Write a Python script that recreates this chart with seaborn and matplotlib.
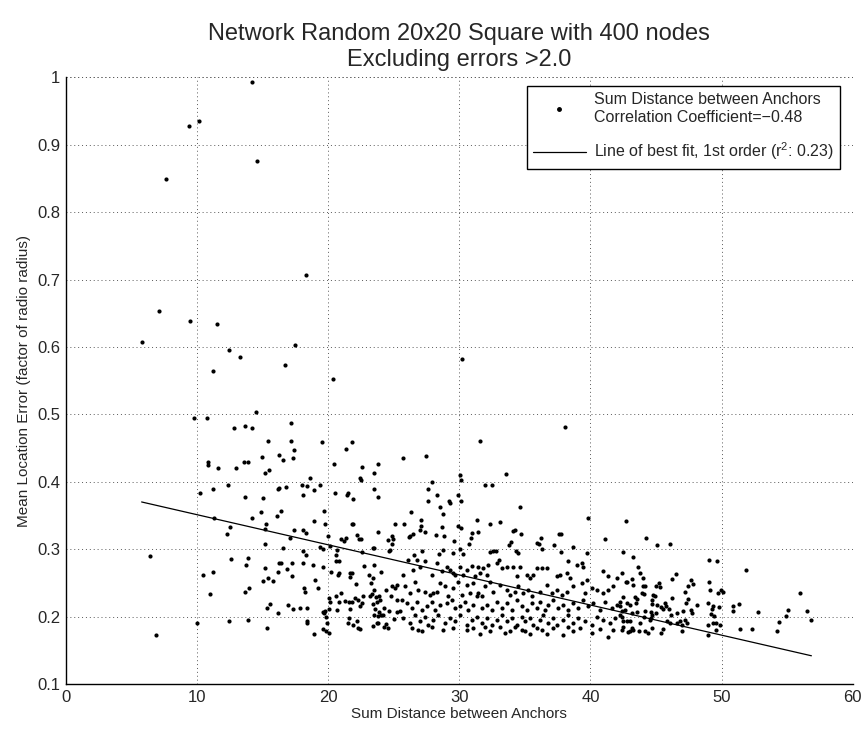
import numpy as np
import pandas as pd
import matplotlib
matplotlib.use("Agg")
import matplotlib.pyplot as plt
import seaborn as sns
from matplotlib.ticker import MultipleLocator, FormatStrFormatter
from matplotlib.lines import Line2D

# ---- data (sum distance between anchors, mean location error) ----
dist_outer = [14.22, 10.2, 9.37, 14.58, 7.62, 18.35, 7.11, 9.44, 11.54, 5.79, 12.42, 17.49, 13.31, 16.7,
              11.24, 14.5, 9.77, 10.78, 17.16, 13.69, 12.8, 14.22, 15.41, 17.16, 17.41, 14.96, 16.25, 16.58,
              17.31, 10.85, 10.85, 13.57, 13.92, 11.64, 12.95, 15.2, 15.53, 18.65, 18.02, 18.42, 18.95, 10.23,
              11.2, 12.35, 13.64, 15.03, 16.25, 16.2, 16.83, 18.12, 14.88, 16.42, 16.09, 11.31, 14.19, 18.93,
              15.28, 15.23, 12.55, 12.27, 17.41, 18.12, 18.32, 17.13, 15.23, 16.59, 18.12, 18.32, 6.42, 12.57,
              13.92, 6.88, 20.4, 30.2]
err_outer = [0.993, 0.936, 0.928, 0.876, 0.849, 0.707, 0.653, 0.638, 0.634, 0.608, 0.596, 0.603, 0.585, 0.573,
             0.564, 0.503, 0.495, 0.495, 0.488, 0.483, 0.480, 0.480, 0.460, 0.461, 0.447, 0.437, 0.440, 0.433,
             0.435, 0.429, 0.425, 0.430, 0.430, 0.420, 0.421, 0.413, 0.418, 0.405, 0.395, 0.394, 0.388, 0.384,
             0.389, 0.395, 0.378, 0.376, 0.391, 0.389, 0.393, 0.380, 0.355, 0.357, 0.350, 0.347, 0.346, 0.342,
             0.338, 0.330, 0.333, 0.323, 0.328, 0.329, 0.324, 0.316, 0.307, 0.302, 0.297, 0.292, 0.290, 0.285,
             0.287, 0.173, 0.553, 0.583]

dist_b = [19.54, 21.84, 21.36, 20.42, 22.62, 23.79, 23.49, 22.40, 22.50, 19.36, 20.55, 21.41, 21.49, 21.89,
          23.49, 23.84, 19.66, 19.76, 21.81, 21.87, 23.79, 19.97, 20.98, 21.21, 21.36, 22.22, 22.35, 22.55,
          19.36, 19.61, 20.12, 20.70, 23.43, 23.54, 22.6, 20.57]
err_b = [0.459, 0.459, 0.448, 0.426, 0.422, 0.426, 0.413, 0.405, 0.402, 0.396, 0.383, 0.381, 0.384, 0.375,
         0.390, 0.378, 0.357, 0.338, 0.338, 0.337, 0.326, 0.320, 0.315, 0.312, 0.316, 0.321, 0.315, 0.315,
         0.304, 0.301, 0.305, 0.299, 0.302, 0.302, 0.296, 0.291]

dist_c = [13.77, 15.23, 16.27, 16.40, 17.26, 18.07, 18.85, 19.61, 20.58, 20.80, 10.48, 11.24, 15.06, 15.41,
          15.77, 16.17, 16.85, 17.26, 20.25, 20.80, 20.78, 21.66, 21.81, 21.69, 22.78, 23.54, 24.04, 23.13,
          23.43, 23.31, 22.14, 19.00, 19.23, 18.14, 18.27, 13.69, 13.94, 10.98, 15.34, 15.54, 16.22, 16.98,
          17.33, 17.87, 18.42, 19.59, 19.69, 19.79, 19.84, 20.17, 20.07, 20.07, 20.63, 20.70, 20.85, 21.00,
          21.26, 21.59, 21.69, 21.84, 22.02, 22.32, 22.47, 22.65, 22.62, 23.18, 23.41, 23.33, 23.54, 23.69,
          23.92, 23.99, 23.74, 23.59, 23.92, 24.02, 24.24, 24.19, 23.49, 23.81, 23.81, 23.46, 23.76, 24.27,
          24.57, 24.45, 24.62, 24.40, 24.78, 24.88, 25.08, 25.28, 25.26, 25.23, 25.05, 21.59, 21.54, 21.92,
          22.22, 22.30, 22.45, 10.02, 12.42, 13.87, 15.34, 18.37, 18.42, 18.90, 19.64, 19.81, 20.07, 19.92]
err_c = [0.276, 0.272, 0.279, 0.280, 0.280, 0.279, 0.277, 0.274, 0.283, 0.283, 0.261, 0.266, 0.253, 0.257,
         0.253, 0.266, 0.271, 0.260, 0.266, 0.264, 0.261, 0.264, 0.265, 0.259, 0.275, 0.276, 0.266, 0.262,
         0.258, 0.250, 0.249, 0.255, 0.242, 0.243, 0.237, 0.237, 0.242, 0.234, 0.213, 0.219, 0.206, 0.217,
         0.211, 0.213, 0.213, 0.207, 0.205, 0.209, 0.199, 0.221, 0.228, 0.212, 0.231, 0.210, 0.221, 0.235,
         0.223, 0.221, 0.212, 0.221, 0.228, 0.225, 0.215, 0.231, 0.220, 0.230, 0.219, 0.233, 0.240, 0.229,
         0.231, 0.224, 0.221, 0.212, 0.207, 0.203, 0.213, 0.202, 0.202, 0.201, 0.190, 0.186, 0.191, 0.184,
         0.183, 0.189, 0.209, 0.240, 0.230, 0.245, 0.243, 0.247, 0.225, 0.207, 0.197, 0.198, 0.190, 0.187,
         0.193, 0.183, 0.181, 0.190, 0.194, 0.195, 0.183, 0.193, 0.190, 0.174, 0.182, 0.178, 0.176, 0.190]

dist_d = [38.04, 31.58, 25.74, 27.44, 33.54, 30.06, 30.16, 31.93, 32.49, 27.95, 27.62, 28.28, 27.65, 28.56,
          29.25, 29.3, 29.88, 30.11, 28.78, 26.34, 34.64, 31.35, 31.43, 32.31, 33.08, 27.11, 27.06, 27.04,
          27.42, 28.68, 29.91, 30.14, 25.1, 25.79, 26.45, 26.27, 26.17, 28.23, 28.86, 29.58, 30.03, 30.72,
          30.87, 30.95, 24.55, 24.9, 24.95, 24.88, 24.72, 24.67, 26.52, 27.19, 28.43, 28.78, 29.5, 32.31,
          32.57, 32.82, 33.82, 33.94, 34.28, 34.13, 34.71, 34.36, 34.46, 35.95, 36.08, 36.33, 36.26, 37.24,
          37.63, 37.76, 38.64, 37.73, 26.09, 26.75, 30.26, 33.0,
          39.80, 42.72, 41.09, 44.24, 45.08, 46.07, 39.72, 42.49, 43.28, 49.07, 49.66]
err_d = [0.481, 0.460, 0.436, 0.439, 0.411, 0.410, 0.403, 0.396, 0.395, 0.400, 0.389, 0.381, 0.372, 0.363,
         0.371, 0.368, 0.380, 0.371, 0.352, 0.355, 0.362, 0.344, 0.326, 0.337, 0.341, 0.343, 0.335, 0.328,
         0.325, 0.333, 0.335, 0.331, 0.337, 0.338, 0.322, 0.320, 0.318, 0.321, 0.320, 0.312, 0.300, 0.307,
         0.316, 0.324, 0.314, 0.319, 0.315, 0.308, 0.299, 0.297, 0.292, 0.298, 0.293, 0.299, 0.294, 0.296,
         0.297, 0.297, 0.306, 0.310, 0.328, 0.327, 0.323, 0.297, 0.295, 0.309, 0.308, 0.300, 0.316, 0.306,
         0.323, 0.322, 0.303, 0.296, 0.284, 0.284, 0.293, 0.284,
         0.347, 0.342, 0.315, 0.317, 0.306, 0.308, 0.295, 0.296, 0.288, 0.284, 0.282]

dist_e = [25.74, 26.51, 27.01, 27.40, 27.90, 28.29, 28.67, 29.05, 29.30, 29.56, 29.68, 30.06, 30.32, 30.57,
          30.95, 31.21, 31.46, 31.59, 31.84, 32.10, 32.22, 32.86, 33.24, 33.62, 34.13, 34.38, 34.64, 35.15,
          35.40, 35.65, 35.91, 36.29, 36.67, 37.43, 37.69, 38.20, 38.32, 38.45, 38.96, 39.34, 39.41, 39.72,
          40.99, 41.37, 42.01,
          25.87, 26.25, 26.63, 26.89, 27.40, 27.78, 28.03, 28.29, 28.54, 28.92, 29.17, 29.56, 29.94, 30.19,
          30.57, 30.83, 31.08, 31.46, 31.72, 31.97, 32.35, 32.61, 33.11, 33.62, 33.88, 34.26, 34.51, 34.89,
          35.27, 35.53, 36.16, 36.67, 37.05, 37.43, 37.81, 38.20, 38.70, 39.34, 39.59, 40.10, 40.48, 40.99,
          41.37, 41.75,
          25.62, 26.0, 26.38, 26.76, 27.14, 27.52, 27.90, 28.16, 28.54, 29.05, 29.43, 29.68, 30.06, 30.45,
          30.70, 31.08, 31.34, 31.72, 32.10, 32.48, 32.86, 33.24, 33.62, 34.0, 34.38, 34.77, 35.15, 35.53,
          35.91, 36.16, 36.54, 36.80, 37.18, 37.56, 37.94, 38.32, 38.70, 39.09, 39.47, 39.85, 40.23, 40.74,
          41.12, 41.63, 42.01, 25.49,
          25.74, 26.25, 26.63, 27.01, 27.40, 27.65, 28.03, 28.41, 28.92, 29.30, 29.68, 30.06, 30.57, 30.95,
          31.34, 31.72, 32.10, 32.48, 32.86, 33.24, 33.62, 34.0, 34.38, 34.77, 35.02, 35.40, 35.65, 36.16,
          36.42, 36.80, 37.18, 37.43, 37.94, 38.32, 38.70, 39.09, 39.59, 40.10, 40.48, 40.99, 41.50, 41.88,
          26.38, 26.89, 27.14, 27.90, 28.79, 29.56, 30.57, 31.08, 31.59, 31.97, 32.35, 33.11, 33.49, 33.88,
          34.26, 34.77, 35.02, 35.40, 35.91, 36.29, 36.67, 37.18, 37.94, 38.32, 38.70, 39.21, 40.10, 40.74,
          41.37, 41.75]
err_e = [0.262, 0.269, 0.274, 0.282, 0.261, 0.279, 0.267, 0.274, 0.269, 0.265, 0.262, 0.274, 0.262, 0.269,
         0.275, 0.260, 0.274, 0.264, 0.272, 0.262, 0.277, 0.279, 0.272, 0.274, 0.274, 0.260, 0.273, 0.262,
         0.257, 0.262, 0.272, 0.272, 0.272, 0.260, 0.262, 0.264, 0.282, 0.257, 0.277, 0.279, 0.274, 0.255,
         0.267, 0.260, 0.257,
         0.245, 0.235, 0.252, 0.240, 0.237, 0.232, 0.235, 0.237, 0.250, 0.245, 0.230, 0.242, 0.252, 0.232,
         0.247, 0.235, 0.250, 0.235, 0.230, 0.245, 0.252, 0.237, 0.247, 0.240, 0.232, 0.237, 0.245, 0.235,
         0.240, 0.230, 0.237, 0.247, 0.235, 0.240, 0.232, 0.237, 0.245, 0.250, 0.235, 0.242, 0.240, 0.235,
         0.240, 0.245,
         0.225, 0.220, 0.213, 0.222, 0.210, 0.215, 0.222, 0.210, 0.217, 0.220, 0.225, 0.213, 0.215, 0.222,
         0.210, 0.217, 0.230, 0.213, 0.217, 0.210, 0.222, 0.213, 0.220, 0.210, 0.225, 0.215, 0.210, 0.220,
         0.213, 0.222, 0.210, 0.217, 0.225, 0.213, 0.217, 0.210, 0.220, 0.213, 0.225, 0.215, 0.220, 0.210,
         0.222, 0.213, 0.217, 0.208,
         0.198, 0.190, 0.203, 0.193, 0.200, 0.188, 0.195, 0.203, 0.190, 0.198, 0.193, 0.203, 0.188, 0.195,
         0.200, 0.190, 0.198, 0.188, 0.195, 0.203, 0.193, 0.198, 0.188, 0.200, 0.193, 0.198, 0.188, 0.195,
         0.203, 0.190, 0.198, 0.188, 0.195, 0.203, 0.190, 0.198, 0.193, 0.188, 0.200, 0.195, 0.190, 0.198,
         0.183, 0.180, 0.178, 0.185, 0.180, 0.183, 0.180, 0.183, 0.174, 0.185, 0.178, 0.185, 0.176, 0.179,
         0.185, 0.180, 0.178, 0.174, 0.183, 0.180, 0.174, 0.183, 0.172, 0.185, 0.179, 0.183, 0.176, 0.181,
         0.170, 0.180]

dist_f = [51.87, 42.44, 43.79, 44.04, 43.15, 42.82, 42.72, 46.23, 46.53, 45.26, 44.98, 45.31, 47.68, 47.80,
          47.47, 43.28, 44.04, 44.17, 43.97, 44.12, 49.02, 49.12, 47.22, 49.94, 50.14, 49.76, 55.96, 44.75,
          44.93, 44.68, 43.41, 43.53, 43.48, 42.52, 42.26, 46.25, 47.42, 47.29, 48.11, 49.0, 49.38, 49.81,
          49.28, 45.67, 45.74, 45.41, 45.57, 44.68, 45.06, 43.02, 42.77, 42.26, 50.90, 51.36, 50.90, 52.81,
          55.05, 54.89, 56.49, 56.85, 54.41, 54.21, 52.33, 51.41, 42.44, 42.64, 43.15, 43.53, 44.17, 44.60,
          44.98, 44.12, 44.63, 44.68, 46.0, 46.15, 46.58, 47.09, 47.73, 47.65, 49.17, 49.45, 42.26, 42.39,
          42.52, 42.82, 43.02, 43.79, 44.55, 45.82, 46.07, 46.58, 46.84, 46.96, 47.22, 47.35, 49.0, 49.38,
          49.58, 49.89, 49.58, 48.95, 46.96, 45.57, 45.36, 44.68, 44.17, 44.37, 43.74, 43.15, 43.28, 43.02,
          42.9, 42.52, 42.39, 43.61]
err_f = [0.269, 0.264, 0.264, 0.257, 0.256, 0.252, 0.252, 0.256, 0.263, 0.250, 0.246, 0.244, 0.254, 0.249,
         0.246, 0.247, 0.245, 0.245, 0.235, 0.233, 0.251, 0.240, 0.236, 0.240, 0.237, 0.235, 0.235, 0.232,
         0.231, 0.225, 0.229, 0.226, 0.220, 0.229, 0.222, 0.227, 0.226, 0.220, 0.217, 0.220, 0.215, 0.214,
         0.212, 0.220, 0.215, 0.214, 0.211, 0.219, 0.217, 0.217, 0.220, 0.215, 0.216, 0.219, 0.208, 0.207,
         0.210, 0.201, 0.209, 0.195, 0.192, 0.179, 0.181, 0.181, 0.209, 0.210, 0.206, 0.207, 0.209, 0.207,
         0.205, 0.200, 0.198, 0.203, 0.212, 0.203, 0.205, 0.208, 0.206, 0.210, 0.204, 0.201, 0.203, 0.200,
         0.193, 0.193, 0.193, 0.190, 0.195, 0.193, 0.190, 0.190, 0.193, 0.188, 0.195, 0.190, 0.188, 0.191,
         0.190, 0.187, 0.180, 0.173, 0.179, 0.182, 0.175, 0.183, 0.178, 0.176, 0.178, 0.183, 0.180, 0.179,
         0.177, 0.185, 0.180, 0.274]

# line of best fit (1st order)
fit_slope = -0.00447
fit_intercept = 0.396

title_text = "Network Random 20x20 Square with 400 nodes\nExcluding errors >2.0"
x_label = "Sum Distance between Anchors"
y_label = "Mean Location Error (factor of radio radius)"
scatter_label = "Sum Distance between Anchors\nCorrelation Coefficient=\u22120.48"
fit_label = "Line of best fit, 1st order (r$^{2}$: 0.23)"
x_ticks = [0, 10, 20, 30, 40, 50, 60]
y_ticks = [0.1, 0.2, 0.3, 0.4, 0.5, 0.6, 0.7, 0.8, 0.9, 1.0]

# ---- assemble ----
df = pd.DataFrame({
    "dist": dist_outer + dist_b + dist_c + dist_d + dist_e + dist_f,
    "err": err_outer + err_b + err_c + err_d + err_e + err_f,
})

sns.set_style("white")
plt.rcParams["font.family"] = ["Liberation Sans", "DejaVu Sans"]
plt.rcParams["mathtext.fontset"] = "custom"
plt.rcParams["mathtext.rm"] = "Liberation Sans"
plt.rcParams["mathtext.it"] = "Liberation Sans"

fig = plt.figure(figsize=(8.63, 7.31), dpi=100)
ax = fig.add_axes([0.0761, 0.0643, 0.912, 0.8297])

sns.scatterplot(data=df, x="dist", y="err", ax=ax, color="black", s=9,
                linewidth=0, marker="o", legend=False, zorder=3)

xf = np.array([df["dist"].min(), df["dist"].max()])
ax.plot(xf, fit_slope * xf + fit_intercept, color="black", linewidth=0.9, zorder=4)

ax.set_xlim(0, 60)
ax.set_ylim(0.1, 1.0)
ax.set_xticks(x_ticks)
ax.set_yticks(y_ticks)
ax.yaxis.set_major_formatter(FormatStrFormatter("%g"))
ax.xaxis.set_minor_locator(MultipleLocator(1))
ax.yaxis.set_minor_locator(MultipleLocator(0.01))
ax.tick_params(which="major", direction="in", length=5, width=0.8, labelsize=12,
               top=False, right=False, pad=4)
ax.tick_params(which="minor", direction="in", length=2, width=0.6, top=False, right=False)

ax.grid(True, which="major", linestyle=(0, (1, 3)), color="0.35", linewidth=0.7)
for side in ["top", "right"]:
    ax.spines[side].set_visible(False)
for side in ["left", "bottom"]:
    ax.spines[side].set_color("black")
    ax.spines[side].set_linewidth(1.0)
# dotted frame on top/right like MATLAB grid
ax.axhline(1.0, linestyle=(0, (1, 3)), color="0.35", linewidth=0.7, zorder=1)
ax.axvline(60, linestyle=(0, (1, 3)), color="0.35", linewidth=0.7, zorder=1)

ax.set_xlabel(x_label, fontsize=11, labelpad=2)
ax.set_ylabel(y_label, fontsize=11, labelpad=4)
ax.set_title(title_text, fontsize=17, linespacing=1.25, pad=8)

handles = [
    Line2D([], [], linestyle="none", marker="o", markersize=2.5, color="black"),
    Line2D([], [], color="black", linewidth=0.9),
]
leg = ax.legend(handles, [scatter_label, fit_label], loc="upper right",
                bbox_to_anchor=(0.984, 0.986), fontsize=11.5, frameon=True,
                fancybox=False, edgecolor="black", framealpha=1, handlelength=3.3,
                handletextpad=0.5, labelspacing=1.0, borderpad=0.4, borderaxespad=0)
leg.get_frame().set_linewidth(1.0)

fig.savefig("out.png", dpi=100, facecolor="white")
